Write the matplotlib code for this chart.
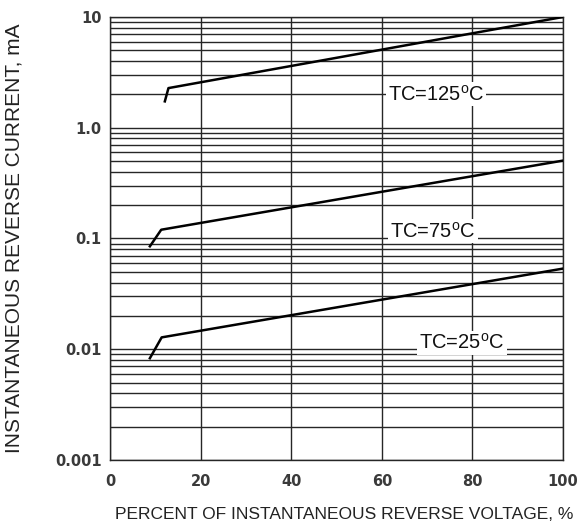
import numpy as np
import matplotlib.pyplot as plt
from matplotlib.ticker import LogLocator, FixedLocator, NullFormatter

plt.rcParams['font.family'] = ['Liberation Sans', 'DejaVu Sans']
plt.rcParams['mathtext.fontset'] = 'custom'
plt.rcParams['mathtext.rm'] = 'Liberation Sans'

# curves: percent of reverse voltage vs reverse current (mA)
pct_125 = [12.1, 12.9, 100]
ir_125 = [1.73, 2.28, 10.0]
pct_75 = [8.8, 11.3, 100]
ir_75 = [0.085, 0.12, 0.505]
pct_25 = [8.8, 11.4, 100]
ir_25 = [0.0083, 0.0128, 0.0535]

labels = ['TC=125$^{\\mathrm{o}}$C', 'TC=75$^{\\mathrm{o}}$C', 'TC=25$^{\\mathrm{o}}$C']
label_x = [72.0, 71.3, 77.7]
label_y = [2.0, 0.116, 0.0114]

xticks = [0, 20, 40, 60, 80, 100]
yticks = [0.001, 0.01, 0.1, 1.0, 10]
ytick_labels = ['0.001', '0.01', '0.1', '1.0', '10']

fig = plt.figure(figsize=(5.8, 5.24), dpi=100)
ax = fig.add_axes([0.1897, 0.1221, 0.781, 0.8455])

gc = '#262626'
ax.set_yscale('log')
ax.set_xlim(0, 100)
ax.set_ylim(0.001, 10)

ax.xaxis.set_major_locator(FixedLocator(xticks))
ax.yaxis.set_major_locator(FixedLocator(yticks))
ax.yaxis.set_minor_locator(LogLocator(base=10, subs=np.arange(2, 10)))
ax.yaxis.set_minor_formatter(NullFormatter())
ax.set_yticklabels(ytick_labels)

ax.grid(True, which='major', color=gc, lw=1.0)
ax.grid(True, which='minor', axis='y', color=gc, lw=1.0)
ax.tick_params(which='both', length=0)
ax.tick_params(axis='x', pad=10, labelcolor='#3a3a3a')
ax.tick_params(axis='y', pad=6, labelcolor='#3a3a3a')
for t in ax.get_xticklabels() + ax.get_yticklabels():
    t.set_fontfamily('DejaVu Sans')
    t.set_fontsize(10.5)
    t.set_fontweight('bold')
for s in ax.spines.values():
    s.set_color(gc)
    s.set_linewidth(1.0)

for px, iy in [(pct_125, ir_125), (pct_75, ir_75), (pct_25, ir_25)]:
    ax.plot(px, iy, color='black', lw=1.8, zorder=3)

for lab, lx, ly in zip(labels, label_x, label_y):
    ax.text(lx, ly, lab, ha='center', va='center', fontsize=14.5, color='#111111',
            bbox=dict(facecolor='white', edgecolor='none', pad=1.5), zorder=4)

ax.set_xlabel('PERCENT OF INSTANTANEOUS REVERSE VOLTAGE, %', fontsize=12.5, color='#222222')
ax.set_ylabel('INSTANTANEOUS REVERSE CURRENT, mA', fontsize=15, color='#222222')
ax.xaxis.set_label_coords(0.517, -0.105)
ax.yaxis.set_label_coords(-0.19, 0.5)

fig.savefig('out.png', dpi=100)
